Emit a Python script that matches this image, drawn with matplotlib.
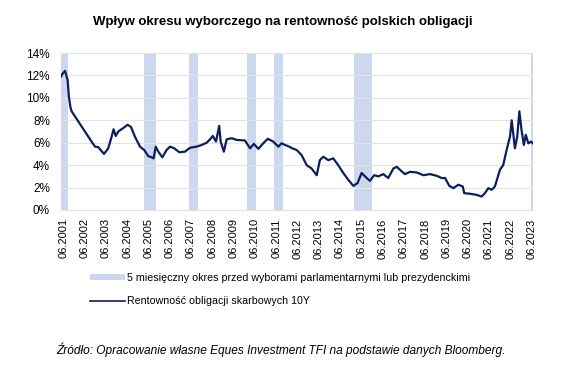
import numpy as np
import matplotlib.pyplot as plt
from matplotlib.patches import Patch
from matplotlib.lines import Line2D

plt.rcParams['font.family'] = ['Liberation Sans', 'DejaVu Sans']

# 10Y Polish treasury yield (%), time as decimal year
t_year = [2001.31, 2001.40, 2001.50, 2001.62, 2001.68, 2001.76, 2001.81, 2002.78, 2002.91,
          2003.06, 2003.33, 2003.53, 2003.69, 2003.78, 2003.88, 2004.00, 2004.23, 2004.44,
          2004.60, 2004.78, 2005.02, 2005.22, 2005.41, 2005.57, 2005.66, 2005.76, 2005.88,
          2006.07, 2006.27, 2006.43, 2006.63, 2006.87, 2007.13, 2007.37, 2007.68, 2007.92,
          2008.15, 2008.31, 2008.44, 2008.59, 2008.74, 2008.81, 2008.96, 2009.09, 2009.33,
          2009.56, 2009.95, 2010.19, 2010.37, 2010.58, 2010.81, 2011.02, 2011.28, 2011.52,
          2011.67, 2011.83, 2012.03, 2012.17, 2012.38, 2012.61, 2012.85, 2013.08, 2013.32,
          2013.47, 2013.63, 2013.86, 2014.10, 2014.33, 2014.57, 2014.80, 2015.04, 2015.24,
          2015.43, 2015.67, 2015.82, 2016.02, 2016.21, 2016.45, 2016.68, 2016.92, 2017.08,
          2017.28, 2017.47, 2017.70, 2018.02, 2018.33, 2018.64, 2018.96, 2019.19, 2019.35,
          2019.55, 2019.74, 2019.97, 2020.18, 2020.25, 2020.52, 2020.83, 2021.07, 2021.22,
          2021.38, 2021.54, 2021.69, 2021.93, 2022.08, 2022.24, 2022.40, 2022.48, 2022.63,
          2022.74, 2022.84, 2022.94, 2023.05, 2023.14, 2023.26, 2023.39, 2023.47]
yield_10y = [11.9, 12.2, 12.4, 11.6, 10.1, 9.1, 8.8, 6.0, 5.65,
             5.6, 5.0, 5.5, 6.55, 7.2, 6.6, 7.0, 7.3, 7.6,
             7.4, 6.55, 5.65, 5.35, 4.8, 4.7, 4.6, 5.65, 5.2,
             4.7, 5.35, 5.65, 5.5, 5.15, 5.2, 5.55, 5.65, 5.8,
             6.0, 6.3, 6.6, 6.1, 7.5, 6.1, 5.2, 6.3, 6.4,
             6.25, 6.2, 5.5, 5.9, 5.45, 5.95, 6.35, 6.1, 5.65,
             5.95, 5.8, 5.65, 5.5, 5.35, 4.9, 4.0, 3.7, 3.1,
             4.45, 4.75, 4.45, 4.6, 4.0, 3.3, 2.7, 2.15, 2.4,
             3.3, 2.85, 2.6, 3.1, 3.0, 3.2, 2.85, 3.7, 3.85,
             3.5, 3.2, 3.4, 3.35, 3.1, 3.2, 3.05, 2.85, 2.85,
             2.15, 1.95, 2.25, 2.1, 1.5, 1.45, 1.35, 1.2, 1.5,
             1.95, 1.8, 2.1, 3.6, 4.0, 5.35, 6.55, 8.0, 5.5,
             6.55, 8.8, 7.15, 5.8, 6.7, 5.95, 6.1, 5.95]

# 5-month pre-election windows (start, end)
band_start = [2001.31, 2005.21, 2007.32, 2010.05, 2011.32, 2015.08, 2023.39]
band_end = [2001.64, 2005.77, 2007.74, 2010.47, 2011.74, 2015.92, 2023.48]

tick_years = list(range(2001, 2024))
tick_labels = ['06.%d' % y for y in tick_years]

line_color = '#0c1f5c'
band_color = '#ccd8ee'

fig = plt.figure(figsize=(5.69, 3.68), dpi=100)
ax = fig.add_axes([61/569, 1 - 210/368, (533-61)/569, (210-53)/368])

for s, e in zip(band_start, band_end):
    ax.axvspan(s, e, color=band_color, lw=0, zorder=1)
ax.plot(t_year, yield_10y, color=line_color, lw=1.6, zorder=3)

ax.set_xlim(2001.31, 2023.48)
ax.set_ylim(0, 14)
ax.set_yticks(np.arange(0, 15, 2))
ax.set_yticklabels(['%d%%' % v for v in range(0, 15, 2)], fontsize=8.5)
ax.set_xticks([y + 5/12 for y in tick_years])
ax.set_xticklabels(tick_labels, rotation=90, fontsize=8)
ax.tick_params(length=0, pad=6)
ax.tick_params(axis='y', pad=8)
ax.grid(axis='y', color='#e3e3e3', lw=0.8, zorder=0)
for sp in ['top', 'right', 'left']:
    ax.spines[sp].set_visible(False)
ax.spines['bottom'].set_color('#e3e3e3')

fig.text(283/569, 1 - 22/368, 'Wpływ okresu wyborczego na rentowność polskich obligacji',
         ha='center', va='center', fontsize=9.5, fontweight='bold')

handles = [Patch(facecolor=band_color, edgecolor='none'),
           Line2D([0], [0], color=line_color, lw=1.2)]
labels = ['5 miesięczny okres przed wyborami parlamentarnymi lub prezydenckimi',
          'Rentowność obligacji skarbowych 10Y']
fig.legend(handles, labels, loc='upper left', bbox_to_anchor=(90/569, 1 - 273/368),
           frameon=False, fontsize=7.7, handlelength=3.3, handleheight=0.4,
           labelspacing=1.25, handletextpad=0.2, borderpad=0, borderaxespad=0)

fig.text(281/569, 1 - 350/368,
         'Źródło: Opracowanie własne Eques Investment TFI na podstawie danych Bloomberg.',
         ha='center', va='center', fontsize=8.6, style='italic')

fig.savefig('out.png', dpi=100)
